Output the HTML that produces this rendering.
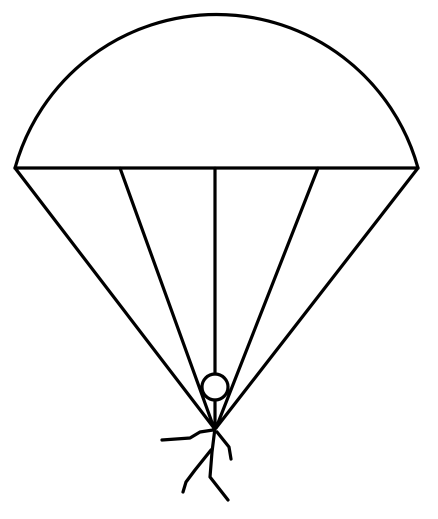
<!DOCTYPE html>
<html><head><style>html,body{margin:0;padding:0;background:#fff}svg{display:block}</style></head>
<body>
<svg width="438" height="519" viewBox="0 0 438 519" fill="none" stroke="#000" stroke-width="3.2" stroke-linecap="round" stroke-linejoin="round">
<path d="M15,168 A209,209 0 0 1 418,168"/>
<line x1="15" y1="168" x2="418" y2="168"/>
<line x1="15" y1="168" x2="214" y2="428"/>
<line x1="120" y1="168" x2="214" y2="428"/>
<line x1="215" y1="168" x2="215" y2="374"/>
<line x1="318" y1="168" x2="216" y2="428"/>
<line x1="418" y1="168" x2="216" y2="428"/>
<line x1="215" y1="400" x2="215" y2="428"/>
<circle cx="215" cy="387" r="13"/>
<path d="M215,428 L212,452 L210,477 L228,500"/>
<path d="M213,430 L200,432 L190,438 L162,440"/>
<path d="M217,432 L229,447 L231,459"/>
<path d="M211,450 L195,470 L186,482 L183,492"/>
</svg>
</body></html>
